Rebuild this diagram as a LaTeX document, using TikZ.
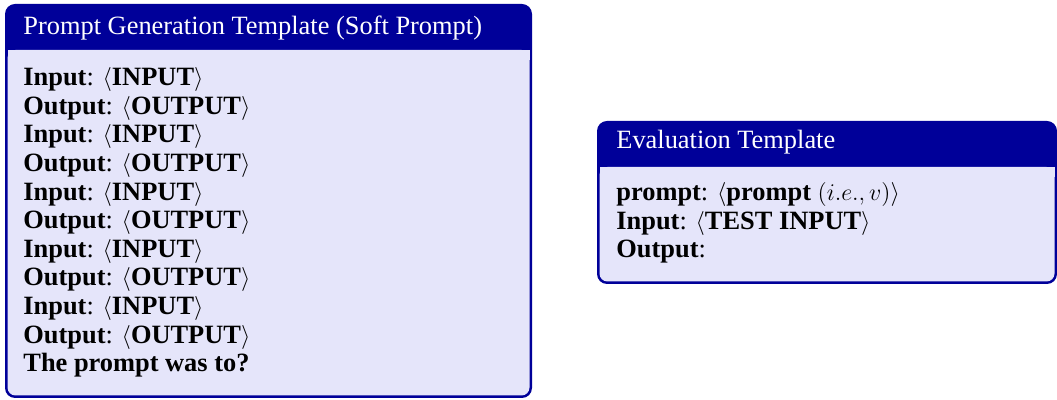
\documentclass[tikz,border=0pt]{standalone}
\usepackage[no-math]{fontspec}
\setmainfont{Liberation Serif}
\definecolor{framecol}{RGB}{0,0,153}
\definecolor{backcol}{RGB}{229,229,250}
\tikzset{
  boxtitle/.style={anchor=base west, inner sep=0pt, text=white, font=\fontsize{13.2}{14.25}\selectfont},
  boxline/.style={anchor=base west, inner sep=0pt, text=black, font=\fontsize{13.2}{14.25}\selectfont},
}
\newcommand{\tplbox}[5]{%
  % #1 left, #2 top, #3 right, #4 bottom, #5 title-bar bottom
  \fill[framecol, rounded corners=5pt] (#1,#2) rectangle (#3,#4);
  \fill[backcol, rounded corners=4pt] (#1+2.5,#5) rectangle (#3-2.5,#4-2.5);
  \fill[backcol] (#1+2.5,#5) rectangle (#3-2.5,#5+10);
}
\begin{document}
\begin{tikzpicture}[x=0.5pt,y=-0.5pt]
\useasboundingbox (0,0) rectangle (1057,400);
% left box
\tplbox{5}{4}{532}{398}{50}
\node[boxtitle] (t1) at (23,35) {Prompt Generation Template (Soft Prompt)};
\foreach \i in {0,1,2,3,4}{
  \node[boxline] (in\i) at (23,85.7+57.2*\i) {\textbf{Input}: $\langle$\textbf{INPUT}$\rangle$};
  \node[boxline] (out\i) at (23,114.3+57.2*\i) {\textbf{Output}: $\langle$\textbf{OUTPUT}$\rangle$};
}
\node[boxline] (q) at (23,371.5) {\textbf{The prompt was to?}};
% right box
\tplbox{597}{121}{1057}{284}{167}
\node[boxtitle] (t2) at (616,148.5) {Evaluation Template};
\node[boxline] (r1) at (616,201) {\textbf{prompt}: $\langle$\textbf{prompt} $(i.e., v)\rangle$};
\node[boxline] (r2) at (616,229.5) {\textbf{Input}: $\langle$\textbf{TEST INPUT}$\rangle$};
\node[boxline] (r3) at (616,258) {\textbf{Output}:};
\end{tikzpicture}
\end{document}
